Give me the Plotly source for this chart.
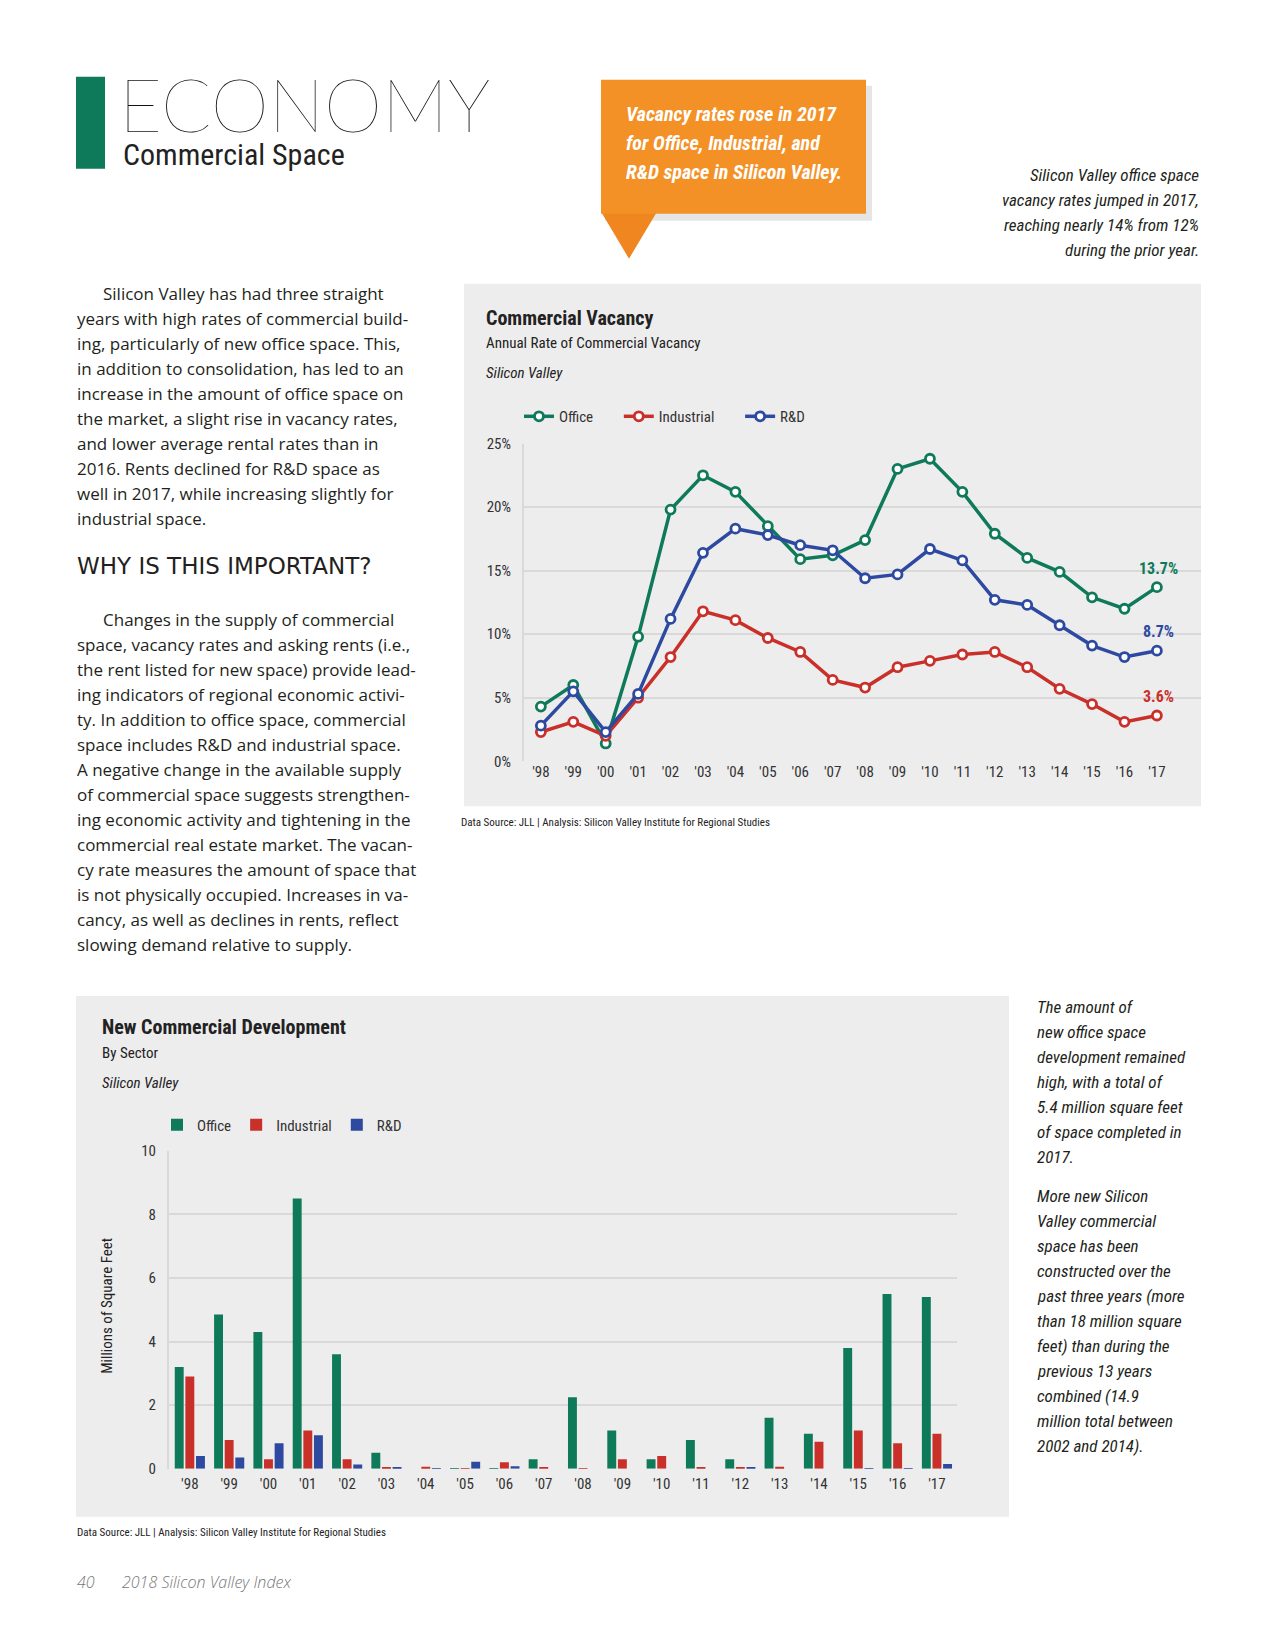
import plotly.graph_objects as go

# ---------------- DATA ----------------
years = ["'98", "'99", "'00", "'01", "'02", "'03", "'04", "'05", "'06", "'07",
         "'08", "'09", "'10", "'11", "'12", "'13", "'14", "'15", "'16", "'17"]

vac_office = [4.3, 6.0, 1.4, 9.8, 19.8, 22.5, 21.2, 18.5, 15.9, 16.2,
              17.4, 23.0, 23.8, 21.2, 17.9, 16.0, 14.9, 12.9, 12.0, 13.7]
vac_industrial = [2.3, 3.1, 2.0, 5.0, 8.2, 11.8, 11.1, 9.7, 8.6, 6.4,
                  5.8, 7.4, 7.9, 8.4, 8.6, 7.4, 5.7, 4.5, 3.1, 3.6]
vac_rd = [2.8, 5.5, 2.3, 5.3, 11.2, 16.4, 18.3, 17.8, 17.0, 16.6,
          14.4, 14.7, 16.7, 15.8, 12.7, 12.3, 10.7, 9.1, 8.2, 8.7]

dev_office = [3.2, 4.85, 4.3, 8.5, 3.6, 0.5, 0.0, 0.02, 0.02, 0.3,
              2.25, 1.2, 0.3, 0.9, 0.3, 1.6, 1.1, 3.8, 5.5, 5.4]
dev_industrial = [2.9, 0.9, 0.3, 1.2, 0.3, 0.03, 0.06, 0.02, 0.2, 0.03,
                  0.02, 0.3, 0.4, 0.03, 0.03, 0.06, 0.85, 1.2, 0.8, 1.1]
dev_rd = [0.4, 0.35, 0.8, 1.05, 0.13, 0.03, 0.02, 0.22, 0.08, 0.0,
          0.0, 0.0, 0.0, 0.0, 0.03, 0.0, 0.0, 0.02, 0.02, 0.15]

vac_ticks = [0, 5, 10, 15, 20, 25]
vac_tick_labels = ["0%", "5%", "10%", "15%", "20%", "25%"]
dev_ticks = [0, 2, 4, 6, 8, 10]

series_names = ["Office", "Industrial", "R&D"]

# ---------------- STYLE ----------------
W, H = 1275, 1650
GREEN = "#0f7a5a"
RED = "#c9302a"
BLUE = "#2d4aa0"
PANEL = "#ededed"
GRID = "#d9d9d9"
CF = "Liberation Sans Narrow, Roboto Condensed, DejaVu Sans Condensed, Roboto, sans-serif"
BF = "Open Sans, Lato, sans-serif"
TXT = "#231f20"
NB = "\u00a0"


def px(x):
    return x / W


def py(y):
    yc = y - 8.4 + 0.0102 * (y - 80)
    return 1 - yc / H


fig = go.Figure()

# ---- line chart ----
line_pad = [NB * 6, NB * 6, ""]
for name, pad, vals, col in zip(series_names, line_pad,
                                [vac_office, vac_industrial, vac_rd],
                                [GREEN, RED, BLUE]):
    fig.add_trace(go.Scatter(
        x=years, y=vals, name=name + pad, mode="lines+markers",
        line=dict(color=col, width=3.5),
        marker=dict(symbol="circle", size=9, color="white",
                    line=dict(color=col, width=2.8)),
        xaxis="x", yaxis="y", legend="legend", cliponaxis=False,
    ))
    fig.add_annotation(x=years[-1], y=vals[-1], xref="x", yref="y",
                       text="<b>%.1f%%</b>" % vals[-1], showarrow=False,
                       yshift=19, xshift=2, font=dict(family=CF, size=16, color=col))

# ---- bar chart ----
for name, vals, col in zip(series_names, [dev_office, dev_industrial, dev_rd],
                           [GREEN, RED, BLUE]):
    fig.add_trace(go.Bar(
        x=years, y=vals, name=name, marker=dict(color=col, line=dict(width=0)),
        xaxis="x2", yaxis="y2", legend="legend2",
    ))

tickfont = dict(family=CF, size=15, color="#333333")

fig.update_layout(
    width=W, height=H,
    margin=dict(l=0, r=0, t=0, b=0),
    paper_bgcolor="white", plot_bgcolor="rgba(0,0,0,0)",
    barmode="group", bargap=0.19, bargroupgap=0.16,
    xaxis=dict(domain=[px(524), px(1201)], anchor="y", type="category",
               range=[-0.52, 20.36], showgrid=False, showline=False, zeroline=False,
               ticks="", tickfont=tickfont),
    yaxis=dict(domain=[py(762), py(444)], anchor="x", range=[0, 25],
               tickvals=vac_ticks, ticktext=vac_tick_labels, showgrid=True,
               gridcolor=GRID, gridwidth=2, showline=True, linecolor=GRID, linewidth=2,
               zeroline=False, ticks="", tickfont=tickfont, ticklabelstandoff=8),
    xaxis2=dict(domain=[px(169), px(957)], anchor="y2", type="category",
                range=[-0.53, 19.51], showgrid=False, showline=False, zeroline=False,
                ticks="", tickfont=tickfont, ticklabelstandoff=4),
    yaxis2=dict(domain=[py(1470), py(1152)], anchor="x2", range=[0, 10],
                tickvals=dev_ticks, showgrid=True, gridcolor=GRID, gridwidth=2,
                showline=True, linecolor=GRID, linewidth=2, zeroline=False,
                ticks="", tickfont=tickfont, ticklabelstandoff=8),
    legend=dict(orientation="h", x=px(519), y=py(417), xanchor="left", yanchor="middle",
                bgcolor="rgba(0,0,0,0)", font=dict(family=CF, size=15, color="#333333"),
                itemwidth=30, traceorder="normal"),
    legend2=dict(orientation="h", x=px(157), y=py(1126), xanchor="left", yanchor="middle",
                 bgcolor="rgba(0,0,0,0)", font=dict(family=CF, size=15, color="#333333"),
                 itemwidth=30, traceorder="normal"),
    showlegend=True,
)

shapes = []
# panels
shapes.append(dict(type="rect", xref="paper", yref="paper", x0=px(464), x1=px(1201),
                   y0=py(807), y1=py(284), fillcolor=PANEL, line=dict(width=0), layer="below"))
shapes.append(dict(type="rect", xref="paper", yref="paper", x0=px(76), x1=px(1009),
                   y0=py(1518), y1=py(997), fillcolor=PANEL, line=dict(width=0), layer="below"))
# green header bar
shapes.append(dict(type="rect", xref="paper", yref="paper", x0=px(76), x1=px(105),
                   y0=py(169), y1=py(77), fillcolor=GREEN, line=dict(width=0), layer="below"))
# orange callout shadow + pointer + box
shapes.append(dict(type="rect", xref="paper", yref="paper", x0=px(605), x1=px(872),
                   y0=py(221), y1=py(86), fillcolor="rgba(0,0,0,0.10)", line=dict(width=0),
                   layer="below"))
shapes.append(dict(type="path", xref="paper", yref="paper",
                   path="M %f,%f L %f,%f L %f,%f Z" % (px(601), py(212), px(657), py(212),
                                                      px(629), py(259)),
                   fillcolor="#f0861f", line=dict(width=0), layer="below"))
shapes.append(dict(type="rect", xref="paper", yref="paper", x0=px(601), x1=px(866),
                   y0=py(214), y1=py(80), fillcolor="#f39127", line=dict(width=0),
                   layer="below"))
fig.update_layout(shapes=shapes)


def note(x, y, text, size=16, family=BF, color=TXT, xanchor="left", weight=None,
         style=None, align="left", angle=0):
    f = dict(family=family, size=size, color=color)
    if weight:
        f["weight"] = weight
    if style:
        f["style"] = style
    fig.add_annotation(x=px(x), y=py(y), xref="paper", yref="paper", text=text,
                       showarrow=False, xanchor=xanchor, yanchor="middle", align=align,
                       font=f, textangle=angle)


# header
note(117, 104, "ECONOMY", size=74, family="Lato, Open Sans, sans-serif",
     color="#111111", weight=100)
note(121, 155, "Commercial Space", size=30, family=CF, color="#222222")

# orange callout text
for i, t in enumerate(["Vacancy rates rose in 2017",
                       "for Office, Industrial, and",
                       "R&D space in Silicon Valley."]):
    note(624, 114 + i * 29, t, size=20, family=CF, color="white", weight="bold",
         style="italic")

# right side note (top)
for i, t in enumerate(["Silicon Valley office space",
                       "vacancy rates jumped in 2017,",
                       "reaching nearly 14% from 12%",
                       "during the prior year."]):
    note(1201, 175 + i * 25, t, size=17, family=CF, style="italic", xanchor="right",
         align="right")

# left text paragraph 1
para1 = ["Silicon Valley has had three straight",
         "years with high rates of commercial build-",
         "ing, particularly of new office space. This,",
         "in addition to consolidation, has led to an",
         "increase in the amount of office space on",
         "the market, a slight rise in vacancy rates,",
         "and lower average rental rates than in",
         "2016. Rents declined for R&D space as",
         "well in 2017, while increasing slightly for",
         "industrial space."]
for i, t in enumerate(para1):
    note(101 if i == 0 else 75, 294 + i * 25, t, size=17)

note(75, 567, "WHY IS THIS IMPORTANT?", size=23,
     family="DejaVu Sans, Open Sans, sans-serif")

para2 = ["Changes in the supply of commercial",
         "space, vacancy rates and asking rents (i.e.,",
         "the rent listed for new space) provide lead-",
         "ing indicators of regional economic activi-",
         "ty. In addition to office space, commercial",
         "space includes R&D and industrial space.",
         "A negative change in the available supply",
         "of commercial space suggests strengthen-",
         "ing economic activity and tightening in the",
         "commercial real estate market. The vacan-",
         "cy rate measures the amount of space that",
         "is not physically occupied. Increases in va-",
         "cancy, as well as declines in rents, reflect",
         "slowing demand relative to supply."]
for i, t in enumerate(para2):
    note(101 if i == 0 else 75, 620 + i * 25, t, size=17)

# line chart titles
note(484, 318, "<b>Commercial Vacancy</b>", size=20, family=CF, color="#222222")
note(484, 343, "Annual Rate of Commercial Vacancy", size=15, family=CF, color="#222222")
note(484, 373, "Silicon Valley", size=15, family=CF, color="#222222", style="italic")
note(459, 823, "Data Source: JLL | Analysis: Silicon Valley Institute for Regional Studies",
     size=11, family=CF, color="#222222")

# bar chart titles
note(100, 1028, "<b>New Commercial Development</b>", size=20, family=CF, color="#222222")
note(100, 1054, "By Sector", size=15, family=CF, color="#222222")
note(100, 1084, "Silicon Valley", size=15, family=CF, color="#222222", style="italic")
note(107, 1307, "Millions of Square Feet", size=15, family=CF, color="#222222",
     xanchor="center", angle=-90)
note(75, 1534, "Data Source: JLL | Analysis: Silicon Valley Institute for Regional Studies",
     size=11, family=CF, color="#222222")

# right side note (bottom)
rnote1 = ["The amount of", "new office space", "development remained",
          "high, with a total of", "5.4 million square feet", "of space completed in",
          "2017."]
for i, t in enumerate(rnote1):
    note(1035, 1008 + i * 25, t, size=17, family=CF, style="italic")
rnote2 = ["More new Silicon", "Valley commercial", "space has been",
          "constructed over the", "past three years (more", "than 18 million square",
          "feet) than during the", "previous 13 years", "combined (14.9",
          "million total between", "2002 and 2014)."]
for i, t in enumerate(rnote2):
    note(1035, 1197 + i * 25, t, size=17, family=CF, style="italic")

# footer
note(75, 1583, "40", size=16, family=BF, color="#777777", style="italic", weight=300)
note(120, 1583, "2018 Silicon Valley Index", size=16, family=BF, color="#777777",
     style="italic", weight=300)

fig.write_html("out.html", config={"displayModeBar": False},
               post_script="document.body.style.margin='0';")
